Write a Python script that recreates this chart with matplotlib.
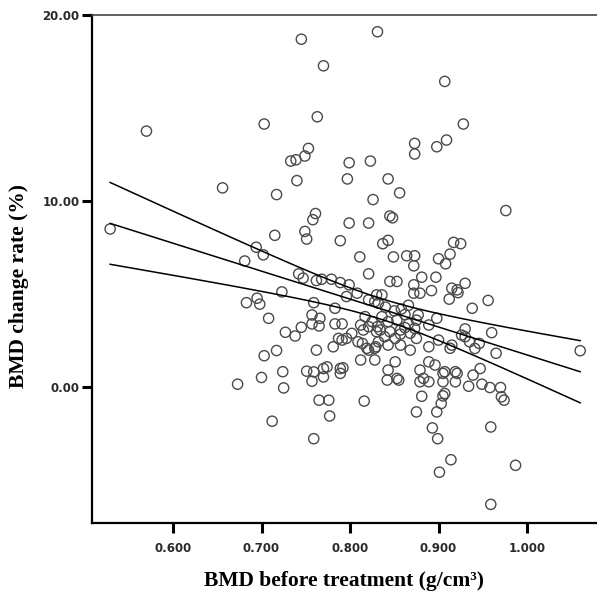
#!/usr/bin/env python3
"""Scatter of BMD change rate vs baseline BMD, with linear fit and 95% CI of the mean."""

import matplotlib

matplotlib.use("Agg")
import matplotlib.pyplot as plt
import numpy as np

# baseline BMD (g/cm3) and BMD change rate (%) per patient
bmd_before = [
    0.570, 0.529, 0.656, 0.703, 0.745, 0.717, 0.733, 0.739, 0.749, 0.753,
    0.740, 0.715, 0.694, 0.702, 0.681, 0.831, 0.770, 0.907, 0.763, 0.928,
    0.873, 0.873, 0.898, 0.909, 0.799, 0.823, 0.797, 0.843, 0.856, 0.826,
    0.845, 0.848, 0.761, 0.758, 0.799, 0.821, 0.749, 0.751, 0.789, 0.843,
    0.837, 0.811, 0.849, 0.976, 0.917, 0.925, 0.913, 0.900, 0.864, 0.873,
    0.872, 0.908, 0.821, 0.742, 0.747, 0.762, 0.768, 0.779, 0.789, 0.799,
    0.796, 0.808, 0.821, 0.828, 0.723, 0.759, 0.783, 0.757, 0.766, 0.708,
    0.683, 0.695, 0.698, 0.727, 0.738, 0.745, 0.757, 0.765, 0.783, 0.791,
    0.817, 0.825, 0.802, 0.815, 0.830, 0.830, 0.832, 0.845, 0.853, 0.872,
    0.881, 0.897, 0.872, 0.879, 0.892, 0.915, 0.921, 0.930, 0.912, 0.836,
    0.938, 0.956, 0.922, 0.877, 0.898, 0.889, 0.873, 0.930, 0.926, 0.935,
    0.946, 0.960, 0.965, 0.913, 0.915, 1.060, 0.836, 0.843, 0.853, 0.834,
    0.845, 0.857, 0.839, 0.851, 0.717, 0.703, 0.724, 0.700, 0.673, 0.725,
    0.712, 0.762, 0.781, 0.791, 0.796, 0.809, 0.819, 0.828, 0.828, 0.751,
    0.757, 0.770, 0.774, 0.770, 0.789, 0.792, 0.789, 0.765, 0.776, 0.777,
    0.816, 0.759, 0.851, 0.843, 0.853, 0.842, 0.855, 0.889, 0.896, 0.879,
    0.883, 0.879, 0.889, 0.905, 0.919, 0.905, 0.919, 0.881, 0.905, 0.903,
    0.898, 0.875, 0.893, 0.899, 0.914, 0.901, 0.959, 0.987, 0.959, 0.947,
    0.939, 0.934, 0.949, 0.958, 0.970, 0.971, 0.974, 0.921, 0.907, 0.907,
    0.930, 0.941, 0.900, 0.889, 0.875, 0.868, 0.857, 0.843, 0.832, 0.787,
    0.759, 0.812, 0.821, 0.831, 0.814, 0.829, 0.821, 0.812, 0.862, 0.866,
    0.858, 0.868, 0.862, 0.850, 0.875, 0.840, 0.866, 0.857,
]
bmd_change = [
    13.76, 8.50, 10.71, 14.14, 18.70, 10.35, 12.15, 12.22, 12.42, 12.83,
    11.10, 8.16, 7.52, 7.11, 6.78, 19.10, 17.27, 16.43, 14.53, 14.14,
    13.10, 12.53, 12.92, 13.28, 12.06, 12.15, 11.19, 11.19, 10.44, 10.08,
    9.20, 9.10, 9.33, 9.00, 8.82, 8.82, 8.37, 7.96, 7.87, 7.89,
    7.71, 7.00, 7.00, 9.49, 7.78, 7.71, 7.15, 6.90, 7.06, 7.06,
    6.52, 6.63, 6.09, 6.09, 5.86, 5.73, 5.80, 5.80, 5.62, 5.50,
    4.87, 5.05, 4.69, 4.60, 5.12, 4.54, 4.24, 3.88, 3.70, 3.70,
    4.54, 4.78, 4.46, 2.95, 2.75, 3.22, 3.40, 3.29, 3.40, 3.40,
    3.79, 3.52, 2.89, 3.07, 2.98, 4.96, 4.51, 5.68, 5.68, 5.50,
    5.91, 5.91, 5.05, 5.05, 5.19, 5.32, 5.23, 5.58, 4.73, 4.96,
    4.24, 4.66, 5.08, 3.88, 3.70, 3.34, 3.16, 3.13, 2.80, 2.44,
    2.35, 2.93, 1.82, 2.09, 2.26, 1.96, 3.79, 3.52, 3.61, 3.07,
    2.98, 3.07, 2.71, 2.62, 1.97, 1.69, 0.83, 0.52, 0.16, -0.04,
    -1.83, 1.99, 2.17, 2.53, 2.62, 2.44, 2.09, 1.46, 2.09, 0.86,
    0.32, 1.00, 1.09, 0.55, 1.00, 1.04, 0.74, -0.70, -0.70, -1.55,
    -0.75, -2.77, 1.36, 0.92, 0.47, 0.38, 0.38, 1.36, 1.19, 0.92,
    0.47, 0.29, 0.29, 0.74, 0.83, 0.29, 0.29, -0.49, -0.47, -0.88,
    -1.33, -1.33, -2.19, -2.77, -3.90, -4.57, -2.14, -4.20, -6.30, 1.00,
    0.65, 0.05, 0.16, -0.02, -0.02, -0.52, -0.70, 0.74, 0.83, -0.34,
    2.71, 2.08, 2.53, 2.17, 2.62, 1.99, 2.26, 2.26, 2.44, 2.62,
    0.82, 3.34, 3.25, 3.25, 2.35, 2.17, 1.99, 1.46, 3.90, 3.40,
    4.20, 2.90, 3.20, 4.10, 3.60, 4.30, 4.40, 2.85,
]

X_TICKS = [0.6, 0.7, 0.8, 0.9, 1.0]
Y_TICKS = [0, 10, 20]
T_95 = 1.971  # two-sided 95% t quantile, df ~ 220


def fit_with_ci(x, y, grid):
    n = len(x)
    slope, icpt = np.polyfit(x, y, 1)
    pred = icpt + slope * grid
    resid = y - (icpt + slope * x)
    s = np.sqrt(np.sum(resid ** 2) / (n - 2))
    sxx = np.sum((x - x.mean()) ** 2)
    half = T_95 * s * np.sqrt(1.0 / n + (grid - x.mean()) ** 2 / sxx)
    return pred, pred - half, pred + half


def main() -> None:
    x = np.array(bmd_before)
    y = np.array(bmd_change)

    fig = plt.figure(figsize=(5.97, 5.95), dpi=100)
    ax = fig.add_axes([92 / 597, 1 - 523 / 595, 1 - 92 / 597, (523 - 15) / 595])

    ax.scatter(x, y, s=54, facecolors="none", edgecolors="#4a4a4a", linewidths=1.0, zorder=2)

    grid = np.linspace(x.min(), x.max(), 200)
    pred, lo, hi = fit_with_ci(x, y, grid)
    for line in (pred, lo, hi):
        ax.plot(grid, line, color="black", linewidth=1.1, zorder=3)

    ax.set_xlim(0.5085, 1.079)
    ax.set_ylim(-7.3, 20.0)
    ax.set_xticks(X_TICKS)
    ax.set_xticklabels([f"{v:.3f}" for v in X_TICKS])
    ax.set_yticks(Y_TICKS)
    ax.set_yticklabels([f"{v:.2f}" for v in Y_TICKS])

    tick_font = {"family": "DejaVu Sans", "size": 8.5, "weight": "bold"}
    for lab in ax.get_xticklabels() + ax.get_yticklabels():
        lab.set_fontproperties(tick_font)
        lab.set_color("#2a2a2a")
    ax.tick_params(axis="both", direction="out", length=7, width=2.2, color="black")
    ax.tick_params(axis="x", pad=7)
    ax.tick_params(axis="y", pad=2)

    ax.spines["right"].set_visible(False)
    ax.spines["left"].set_linewidth(1.6)
    ax.spines["bottom"].set_linewidth(1.6)
    ax.spines["top"].set_linewidth(1.2)
    ax.spines["top"].set_color("#444444")

    label_font = {"family": "Liberation Serif", "size": 15.5, "weight": "bold"}
    fig.text(344 / 597, 1 - 581 / 595, "BMD before treatment (g/cm³)",
             ha="center", va="center", fontdict=label_font)
    fig.text(19 / 597, 1 - 286 / 595, "BMD change rate (%)", ha="center", va="center",
             rotation=90, fontdict=label_font)

    fig.savefig("out.png", dpi=100, facecolor="white")
    plt.close(fig)


if __name__ == "__main__":
    main()
